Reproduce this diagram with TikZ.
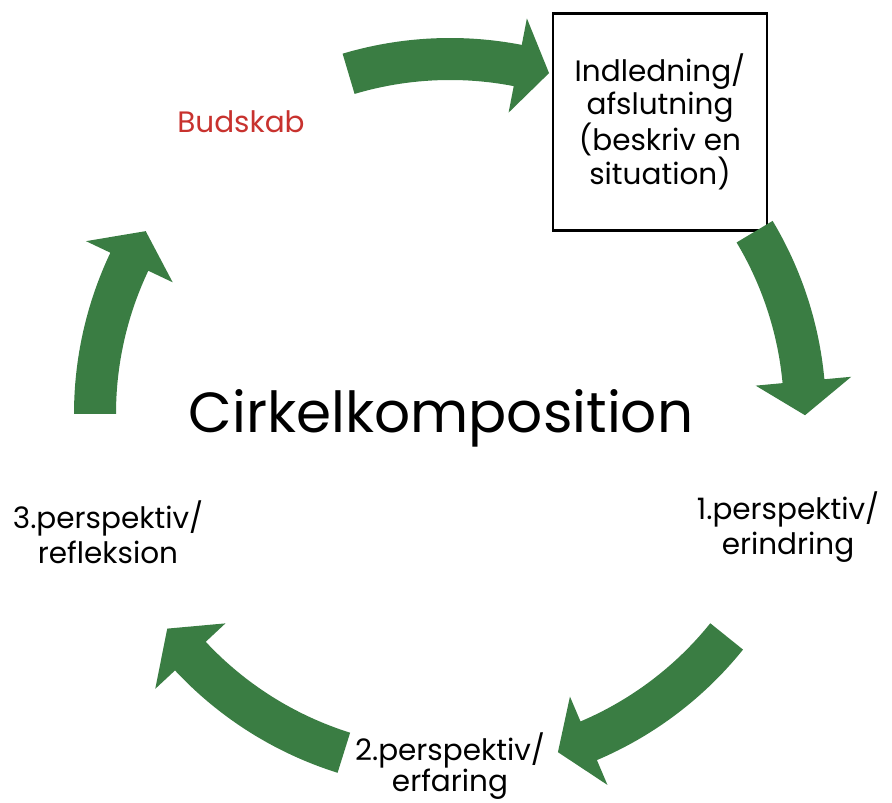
\documentclass[tikz,border=0pt]{standalone}
\usepackage{fontspec}
\setmainfont{Poppins}
\definecolor{pilgroen}{HTML}{3A7D43}
\definecolor{budrod}{HTML}{C8322E}
\tikzset{
  pilfyld/.style={fill=pilgroen},
  etiket/.style={align=center,font=\fontsize{29.5}{35}\selectfont},
}
% curved arrow on the circle: tail angle, head base angle, tip angle
\newcommand\pil[3]{%
  \fill[pilfyld] (#1:376) arc[start angle=#1,end angle=#2,radius=376]
    -- (#2:403) -- (#3:355) -- (#2:307) -- (#2:334)
    arc[start angle=#2,end angle=#1,radius=334] -- cycle;
}

\begin{document}
\begin{tikzpicture}[x=1pt,y=1pt]
\useasboundingbox (0,0) rectangle (892,803);
\node[draw,line width=2.5pt,minimum width=214,minimum height=217,align=center,
  font=\fontsize{29.5}{33}\selectfont] (boks) at (660,681)
  {Indledning/\\afslutning\\(beskriv en\\situation)};
\begin{scope}[shift={(450,389)}]
\pil{180}{154.6}{149}
\pil{106.6}{79}{73.8}
\pil{30.9}{5.3}{-0.2}
\pil{-38.8}{-67}{-72.3}
\pil{-107.4}{-137}{-142.8}
\end{scope}
\node[font=\fontsize{56.5}{60}\selectfont,anchor=base] (titel) at (441,370) {Cirkelkomposition};
\node[font=\fontsize{29.5}{30}\selectfont,text=budrod,anchor=base] (budskab) at (241,670) {Budskab};
\node[etiket] (p1) at (788,276) {1.perspektiv/\\erindring};
\node[etiket,font=\fontsize{29.5}{30}\selectfont,inner sep=1pt] (p2) at (450,37) {2.perspektiv/\\erfaring};
\node[etiket] (p3) at (108,271) {3.perspektiv/\\refleksion};
\end{tikzpicture}
\end{document}
